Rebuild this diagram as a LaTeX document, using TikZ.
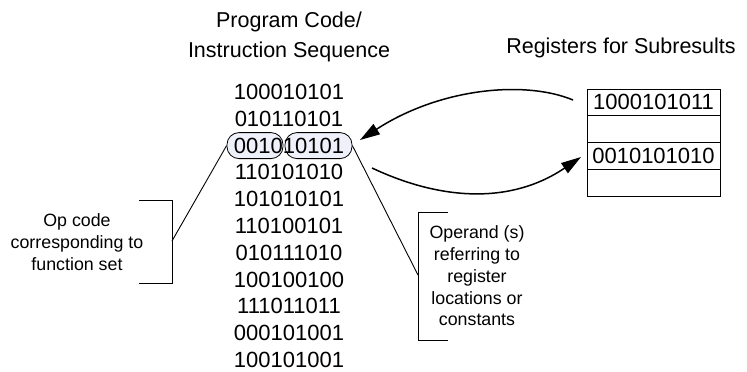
\documentclass[tikz,border=0pt]{standalone}
\usepackage{fontspec}
\setmainfont{Liberation Sans}
\usetikzlibrary{arrows.meta}
\definecolor{pillfill}{RGB}{239,241,250}
\begin{document}
\begin{tikzpicture}[x=1pt,y=-1pt,
 bin/.style={font=\fontsize{22}{26}\selectfont, inner sep=0pt, anchor=center},
 note/.style={font=\fontsize{17.8}{21.7}\selectfont, align=center, inner sep=0pt},
 title/.style={font=\fontsize{21.5}{30}\selectfont, align=center, inner sep=0pt},
 pill/.style={draw, fill=pillfill, rounded corners=12pt, inner sep=0pt, line width=0.8pt},
 reg/.style={draw, line width=0.9pt, minimum width=133pt, minimum height=26.75pt, inner sep=0pt, font=\fontsize{22}{26}\selectfont},
 flow/.style={line width=1.5pt, -{Triangle[length=20pt,width=12pt]}},
 thin/.style={line width=0.9pt}]
\useasboundingbox (0,0) rectangle (747,372);

% titles
\node[title] (t1) at (289,36.5) {Program Code/\\Instruction Sequence};
\node[title] (t2) at (621,48) {Registers for Subresults};

% pills behind row 3
\node[pill, minimum width=56pt, minimum height=26pt] (op) at (255,145.6) {};
\node[pill, minimum width=67pt, minimum height=26pt] (opd) at (318.5,145.6) {};

% binary rows
\node[bin] (b1) at (289,92) {100010101};
\node[bin] (b2) at (289,118.8) {010110101};
\node[bin] (b3) at (289,145.6) {001010101};
\node[bin] (b4) at (289,172.4) {110101010};
\node[bin] (b5) at (289,199.2) {101010101};
\node[bin] (b6) at (289,226) {110100101};
\node[bin] (b7) at (289,252.8) {010111010};
\node[bin] (b8) at (289,279.6) {100100100};
\node[bin] (b9) at (289,306.4) {111011011};
\node[bin] (b10) at (289,333.2) {000101001};
\node[bin] (b11) at (289,360) {100101001};

% registers
\node[reg] (r1) at (653.5,102.4) {1000101011};
\node[reg] (r2) at (653.5,129.1) {};
\node[reg] (r3) at (653.5,155.9) {0010101010};
\node[reg] (r4) at (653.5,182.6) {};

% op code bracket
\coordinate (opb) at (172,241);
\draw[thin] (139,200) -- (172,200) -- (172,283) -- (139,283);
\draw[thin] (op.west) -- (opb);
\node[note] (opt) at (77,242) {Op code\\corresponding to\\function set};

% operand bracket
\coordinate (odb) at (418,275);
\draw[thin] (448,212) -- (418,212) -- (418,340) -- (448,340);
\draw[thin] (opd.east) -- (odb);
\node[note] (odt) at (477,276) {Operand (s)\\referring to\\register\\locations or\\constants};

% flow arrows
\coordinate (a1s) at (573,100);
\coordinate (a1e) at (360,140);
\draw[flow] (a1s) .. controls (525,80) and (440,88) .. (a1e);
\coordinate (a2s) at (372,168);
\coordinate (a2e) at (581,157);
\draw[flow] (a2s) .. controls (440,200) and (510,205) .. (a2e);
\end{tikzpicture}
\end{document}
